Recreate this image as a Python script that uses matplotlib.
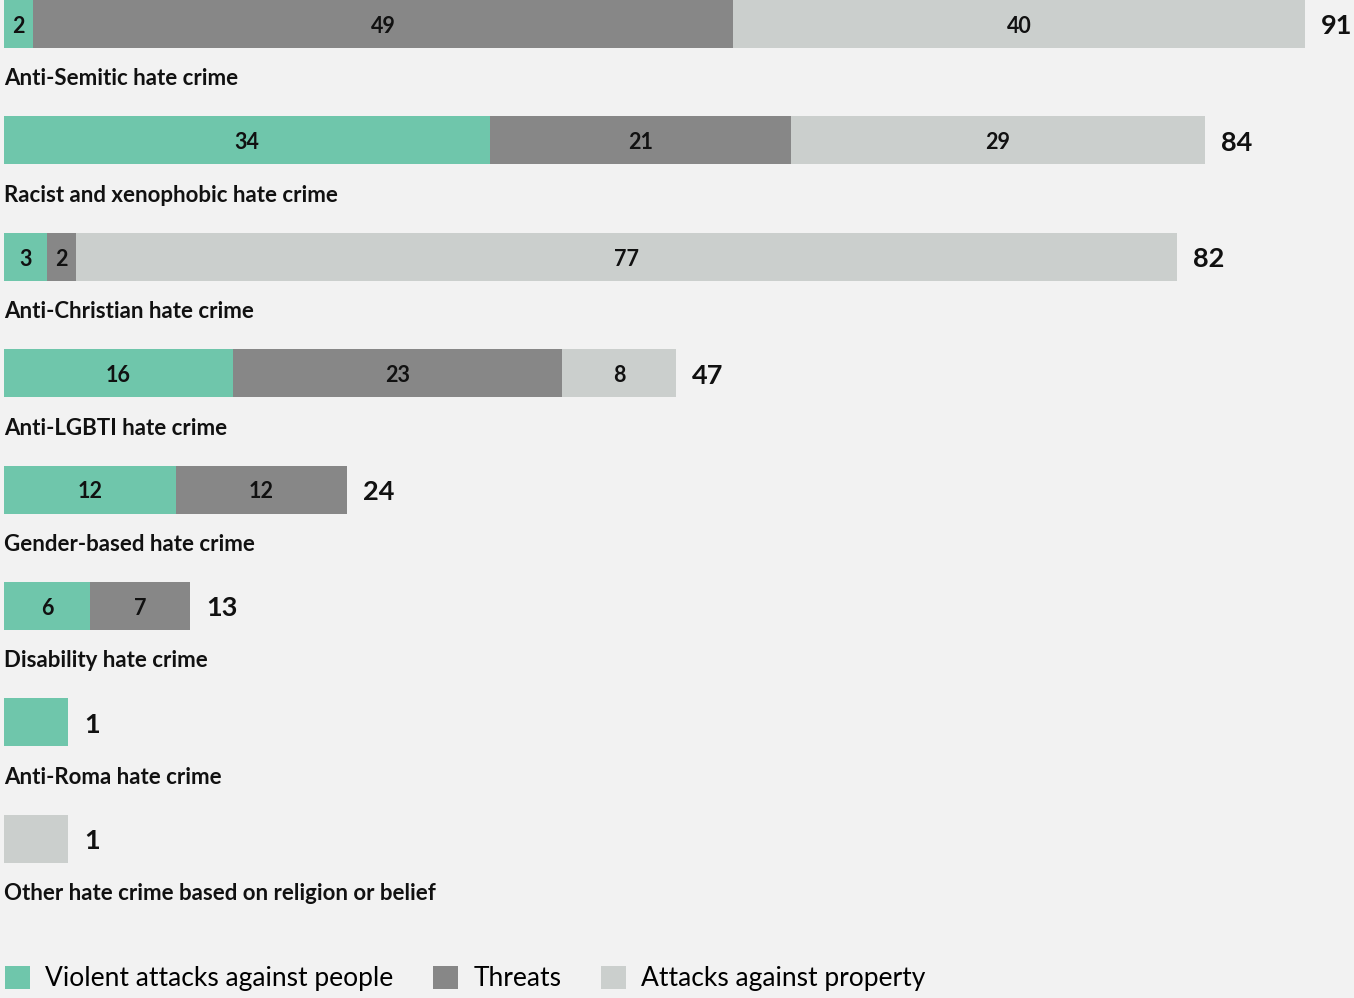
"""Stacked horizontal bars of hate crime incidents by bias motivation."""

import matplotlib
matplotlib.use("Agg")

import matplotlib.pyplot as plt
from matplotlib.patches import Patch

categories = [
    "Anti-Semitic hate crime",
    "Racist and xenophobic hate crime",
    "Anti-Christian hate crime",
    "Anti-LGBTI hate crime",
    "Gender-based hate crime",
    "Disability hate crime",
    "Anti-Roma hate crime",
    "Other hate crime based on religion or belief",
]
violent = [2, 34, 3, 16, 12, 6, 1, 0]
threats = [49, 21, 2, 23, 12, 7, 0, 0]
property_attacks = [40, 29, 77, 8, 0, 0, 0, 1]

series_names = ["Violent attacks against people", "Threats", "Attacks against property"]
series_colors = ["#6fc6ab", "#878787", "#cbcfcd"]

BG = "#f2f2f2"
MIN_BAR = 4.5  # very short bars get a minimum drawn length so they stay visible

plt.rcParams["font.family"] = ["Lato", "DejaVu Sans"]

fig = plt.figure(figsize=(13.54, 9.98), dpi=100, facecolor=BG)
ax = fig.add_axes([0, 0, 1, 1], facecolor=BG)

unit_px = 14.3
ax.set_xlim(-4 / unit_px, (1354 - 4) / unit_px)
row_px = 116.4
ax.set_ylim((998 - 24) / row_px, -24 / row_px)
ax.axis("off")

bar_h = 48 / row_px
for i, cat in enumerate(categories):
    vals = [violent[i], threats[i], property_attacks[i]]
    total = sum(vals)
    scale = max(total, MIN_BAR) / total
    left = 0.0
    for v, color in zip(vals, series_colors):
        if v == 0:
            continue
        w = v * scale
        ax.barh(i, w, left=left, height=bar_h, color=color, linewidth=0)
        if total > 1:
            ax.text(left + w / 2, i + 0.02, str(v), ha="center", va="center",
                    fontsize=15.5, fontweight="bold", color="#111111")
        left += w
    ax.text(left + 16 / unit_px, i + 0.02, str(total), ha="left", va="center",
            fontsize=19.5, fontweight="bold", color="#111111")
    ax.text(0, i + 55 / row_px, cat, ha="left", va="center",
            fontsize=16, fontweight="bold", color="#111111")

handles = [Patch(facecolor=c, edgecolor="none") for c in series_colors]
fig.legend(handles, series_names, loc="lower left", bbox_to_anchor=(-0.004, -0.004),
           ncol=3, frameon=False, fontsize=19, handlelength=0.95, handleheight=0.95,
           handletextpad=0.57, columnspacing=1.5, borderaxespad=0)

fig.savefig("out.png", dpi=100, facecolor=BG)
